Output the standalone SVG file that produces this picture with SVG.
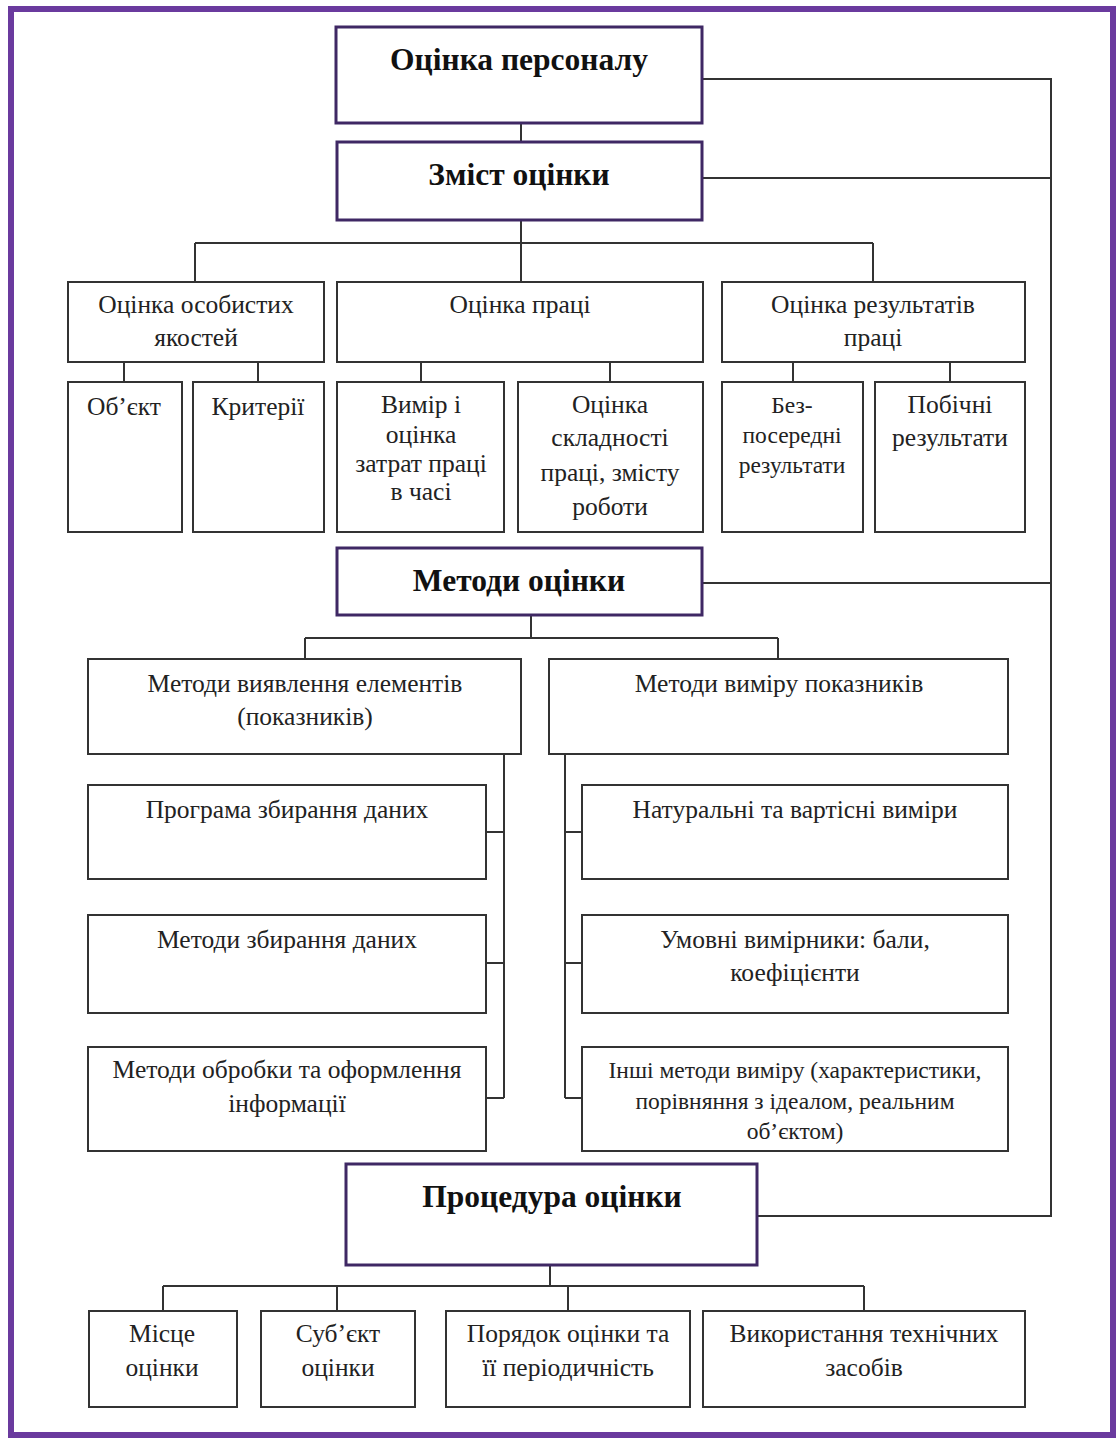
<svg xmlns="http://www.w3.org/2000/svg" width="1118" height="1438" viewBox="0 0 1118 1438">
<style>
.frame{fill:#fff;stroke:#6a3a9e;stroke-width:6}
.main{fill:#fff;stroke:#3f2864;stroke-width:3}
.box{fill:#fff;stroke:#333;stroke-width:2}
.ln{fill:none;stroke:#333;stroke-width:2}
.t{font-family:"Liberation Serif","Times New Roman",serif;font-size:25.5px;fill:#222;text-anchor:middle}
.s{font-size:23.5px}
.b{font-family:"Liberation Serif","Times New Roman",serif;font-size:31.5px;font-weight:bold;fill:#111;text-anchor:middle}
</style>
<rect x="0" y="0" width="1118" height="1438" fill="#fff"/>
<rect class="frame" x="11" y="9" width="1102" height="1426"/>
<g id="connectors">
<path class="ln" d="M521 124V142"/>
<path class="ln" d="M702 79H1051V1216H757M702 178H1051M702 583H1051"/>
<path class="ln" d="M521 220V243M195 243H873M195 243V282M521 243V282M873 243V282"/>
<path class="ln" d="M124 362V382M258 362V382M421 362V382M610 362V382M793 362V382M950 362V382"/>
<path class="ln" d="M531 615V638M305 638H778M305 638V659M778 638V659"/>
<path class="ln" d="M504 754V1098M486 832H504M486 963H504M486 1098H504"/>
<path class="ln" d="M565 754V1098M565 832H582M565 963H582M565 1098H582"/>
<path class="ln" d="M550 1265V1286M163 1286H864M163 1286V1311M337 1286V1311M568 1286V1311M864 1286V1311"/>
</g>
<g id="n-personal"><rect class="main" x="336" y="27" width="366" height="96"/><text class="b" x="519" y="70">Оцінка персоналу</text></g>
<g id="n-zmist"><rect class="main" x="337" y="142" width="365" height="78"/><text class="b" x="519" y="185">Зміст оцінки</text></g>
<g id="n-osob"><rect class="box" x="68" y="282" width="256" height="80"/><text class="t" x="196" y="313">Оцінка особистих</text><text class="t" x="196" y="346">якостей</text></g>
<g id="n-praci"><rect class="box" x="337" y="282" width="366" height="80"/><text class="t" x="520" y="313">Оцінка праці</text></g>
<g id="n-rez"><rect class="box" x="722" y="282" width="303" height="80"/><text class="t" x="873" y="313">Оцінка результатів</text><text class="t" x="873" y="346">праці</text></g>
<g id="n-obj"><rect class="box" x="68" y="382" width="114" height="150"/><text class="t" x="124" y="415">Об’єкт</text></g>
<g id="n-krit"><rect class="box" x="193" y="382" width="131" height="150"/><text class="t" x="258" y="415">Критерії</text></g>
<g id="n-vymir"><rect class="box" x="337" y="382" width="167" height="150"/><text class="t" x="421" y="413">Вимір і</text><text class="t" x="421" y="443">оцінка</text><text class="t" x="421" y="472">затрат праці</text><text class="t" x="421" y="500">в часі</text></g>
<g id="n-skl"><rect class="box" x="518" y="382" width="185" height="150"/><text class="t" x="610" y="413">Оцінка</text><text class="t" x="610" y="446">складності</text><text class="t" x="610" y="481">праці, змісту</text><text class="t" x="610" y="515">роботи</text></g>
<g id="n-bez"><rect class="box" x="722" y="382" width="141" height="150"/><text class="t s" x="792" y="413">Без-</text><text class="t s" x="792" y="443">посередні</text><text class="t s" x="792" y="473">результати</text></g>
<g id="n-pob"><rect class="box" x="875" y="382" width="150" height="150"/><text class="t" x="950" y="413">Побічні</text><text class="t" x="950" y="446">результати</text></g>
<g id="n-metody"><rect class="main" x="337" y="548" width="365" height="67"/><text class="b" x="519" y="591">Методи оцінки</text></g>
<g id="n-vyav"><rect class="box" x="88" y="659" width="433" height="95"/><text class="t" x="305" y="692">Методи виявлення елементів</text><text class="t" x="305" y="725">(показників)</text></g>
<g id="n-vympok"><rect class="box" x="549" y="659" width="459" height="95"/><text class="t" x="779" y="692">Методи виміру показників</text></g>
<g id="n-prog"><rect class="box" x="88" y="785" width="398" height="94"/><text class="t" x="287" y="818">Програма збирання даних</text></g>
<g id="n-zbir"><rect class="box" x="88" y="915" width="398" height="98"/><text class="t" x="287" y="948">Методи збирання даних</text></g>
<g id="n-obr"><rect class="box" x="88" y="1047" width="398" height="104"/><text class="t" x="287" y="1078">Методи обробки та оформлення</text><text class="t" x="287" y="1112">інформації</text></g>
<g id="n-nat"><rect class="box" x="582" y="785" width="426" height="94"/><text class="t" x="795" y="818">Натуральні та вартісні виміри</text></g>
<g id="n-umov"><rect class="box" x="582" y="915" width="426" height="98"/><text class="t" x="795" y="948">Умовні вимірники: бали,</text><text class="t" x="795" y="981">коефіцієнти</text></g>
<g id="n-inshi"><rect class="box" x="582" y="1047" width="426" height="104"/><text class="t s" x="795" y="1078">Інші методи виміру (характеристики,</text><text class="t s" x="795" y="1109">порівняння з ідеалом, реальним</text><text class="t s" x="795" y="1139">об’єктом)</text></g>
<g id="n-proc"><rect class="main" x="346" y="1164" width="411" height="101"/><text class="b" x="552" y="1207">Процедура оцінки</text></g>
<g id="n-mist"><rect class="box" x="89" y="1311" width="148" height="96"/><text class="t" x="162" y="1342">Місце</text><text class="t" x="162" y="1376">оцінки</text></g>
<g id="n-subj"><rect class="box" x="261" y="1311" width="154" height="96"/><text class="t" x="338" y="1342">Суб’єкт</text><text class="t" x="338" y="1376">оцінки</text></g>
<g id="n-por"><rect class="box" x="446" y="1311" width="244" height="96"/><text class="t" x="568" y="1342">Порядок оцінки та</text><text class="t" x="568" y="1376">її періодичність</text></g>
<g id="n-tech"><rect class="box" x="703" y="1311" width="322" height="96"/><text class="t" x="864" y="1342">Використання технічних</text><text class="t" x="864" y="1376">засобів</text></g>
</svg>
